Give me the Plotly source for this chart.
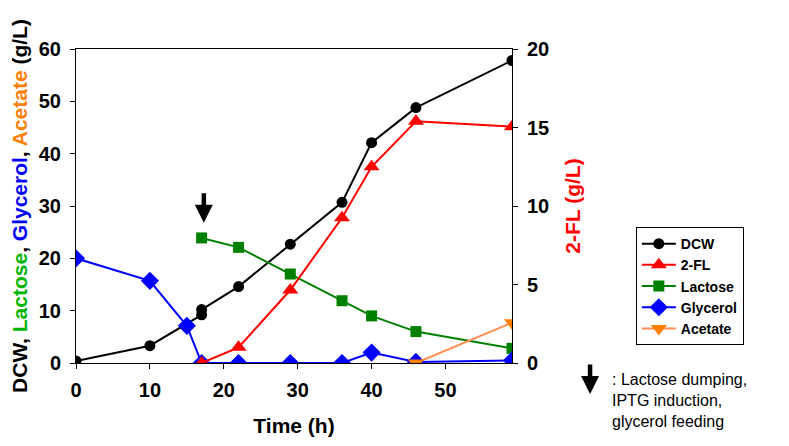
import plotly.graph_objects as go

# ---- data ----
dcw_t = [0, 10, 17, 17, 22, 29, 36, 40, 46, 59]
dcw_v = [0.4, 3.3, 9.2, 10.2, 14.6, 22.7, 30.7, 42.1, 48.8, 57.8]

fl_t = [17, 22, 29, 36, 40, 46, 59]
fl_v = [0.0, 1.0, 4.65, 9.25, 12.5, 15.4, 15.05]

lac_t = [17, 22, 29, 36, 40, 46, 59]
lac_v = [23.9, 22.1, 17.0, 11.9, 9.0, 6.0, 2.8]

gly_t = [0, 10, 15, 17, 22, 29, 36, 40, 46, 59]
gly_v = [20.0, 15.7, 7.1, 0.0, 0.0, 0.0, 0.0, 2.0, 0.2, 0.5]

ace_t = [46, 59]
ace_v = [0.0, 7.7]

x_ticks = [0, 10, 20, 30, 40, 50]
y_ticks = [0, 10, 20, 30, 40, 50, 60]
y2_ticks = [0, 5, 10, 15, 20]

FONT = "Liberation Sans, Arial, sans-serif"
TICK = 20
TITLE = 21

fig = go.Figure()
fig.add_trace(go.Scatter(x=dcw_t, y=dcw_v, name="DCW", mode="lines+markers",
                         line=dict(color="black", width=2),
                         marker=dict(symbol="circle", size=11, color="black")))
fig.add_trace(go.Scatter(x=fl_t, y=fl_v, name="2-FL", mode="lines+markers", yaxis="y2",
                         line=dict(color="#FF0000", width=2),
                         marker=dict(symbol="triangle-up", size=14, color="#FF0000")))
fig.add_trace(go.Scatter(x=lac_t, y=lac_v, name="Lactose", mode="lines+markers",
                         line=dict(color="#008000", width=2),
                         marker=dict(symbol="square", size=11, color="#008000")))
fig.add_trace(go.Scatter(x=gly_t, y=gly_v, name="Glycerol", mode="lines+markers",
                         line=dict(color="#0000FF", width=2),
                         marker=dict(symbol="diamond", size=14, color="#0000FF")))
fig.add_trace(go.Scatter(x=ace_t, y=ace_v, name="Acetate", mode="lines+markers",
                         line=dict(color="#FF8C50", width=2),
                         marker=dict(symbol="triangle-down", size=14, color="#FF8000")))

ytitle = ("DCW, <span style='color:#00B400'>Lactose</span>, "
          "<span style='color:#0000FF'>Glycerol</span>, "
          "<span style='color:#FF8000'>Acetate</span> (g/L)")

fig.update_layout(
    width=781, height=438,
    margin=dict(l=68, r=277, t=41, b=83),
    paper_bgcolor="white", plot_bgcolor="white",
    font=dict(family=FONT, size=18, color="black"),
    showlegend=True,
    legend=dict(x=1.284, y=0.433, xanchor="left", yanchor="top",
                bordercolor="black", borderwidth=1, bgcolor="white",
                font=dict(family=FONT, size=14, color="black", weight="bold"),
                tracegroupgap=0, itemwidth=34),
    xaxis=dict(range=[0, 59], tickvals=x_ticks, showgrid=False, zeroline=False, automargin=False,
               showline=True, linecolor="black", linewidth=1, mirror=True,
               ticks="outside", ticklen=5, tickcolor="black", ticklabelstandoff=4,
               tickfont=dict(family=FONT, size=TICK, weight="bold"),
               title=dict(text="<b>Time (h)</b>", font=dict(family=FONT, size=TITLE), standoff=18)),
    yaxis=dict(range=[0, 60], tickvals=y_ticks, showgrid=False, zeroline=False, automargin=False,
               showline=True, linecolor="black", linewidth=1,
               ticks="outside", ticklen=5, tickcolor="black", ticklabelstandoff=5,
               tickfont=dict(family=FONT, size=TICK, weight="bold"),
               title=dict(text="<b>" + ytitle + "</b>", font=dict(family=FONT, size=TITLE), standoff=10)),
    yaxis2=dict(range=[0, 20], tickvals=y2_ticks, overlaying="y", side="right", automargin=False,
                showgrid=False, zeroline=False,
                showline=True, linecolor="black", linewidth=1,
                ticks="outside", ticklen=5, tickcolor="black", ticklabelstandoff=5,
                tickfont=dict(family=FONT, size=TICK, weight="bold"),
                title=dict(text="<b>2-FL (g/L)</b>", font=dict(family=FONT, size=TITLE, color="#FF0000"),
                           standoff=17)),
)

# induction arrow in plot
fig.add_annotation(x=17.3, y=26.8, xref="x", yref="y", ax=0, ay=-31, axref="pixel", ayref="pixel",
                   showarrow=True, arrowhead=2, arrowsize=0.8, arrowwidth=4.5, arrowcolor="black", text="")
# legend arrow
fig.add_annotation(x=1.179, y=-0.099, xref="paper", yref="paper", ax=0, ay=-31,
                   showarrow=True, arrowhead=2, arrowsize=0.8, arrowwidth=4.5, arrowcolor="black", text="")
fig.add_annotation(x=1.225, y=-0.02, xref="paper", yref="paper", xanchor="left", yanchor="top",
                   showarrow=False, align="left",
                   text=": Lactose dumping,<br>IPTG induction,<br>glycerol feeding",
                   font=dict(family=FONT, size=16, color="black"))

fig.write_html("out.html")
